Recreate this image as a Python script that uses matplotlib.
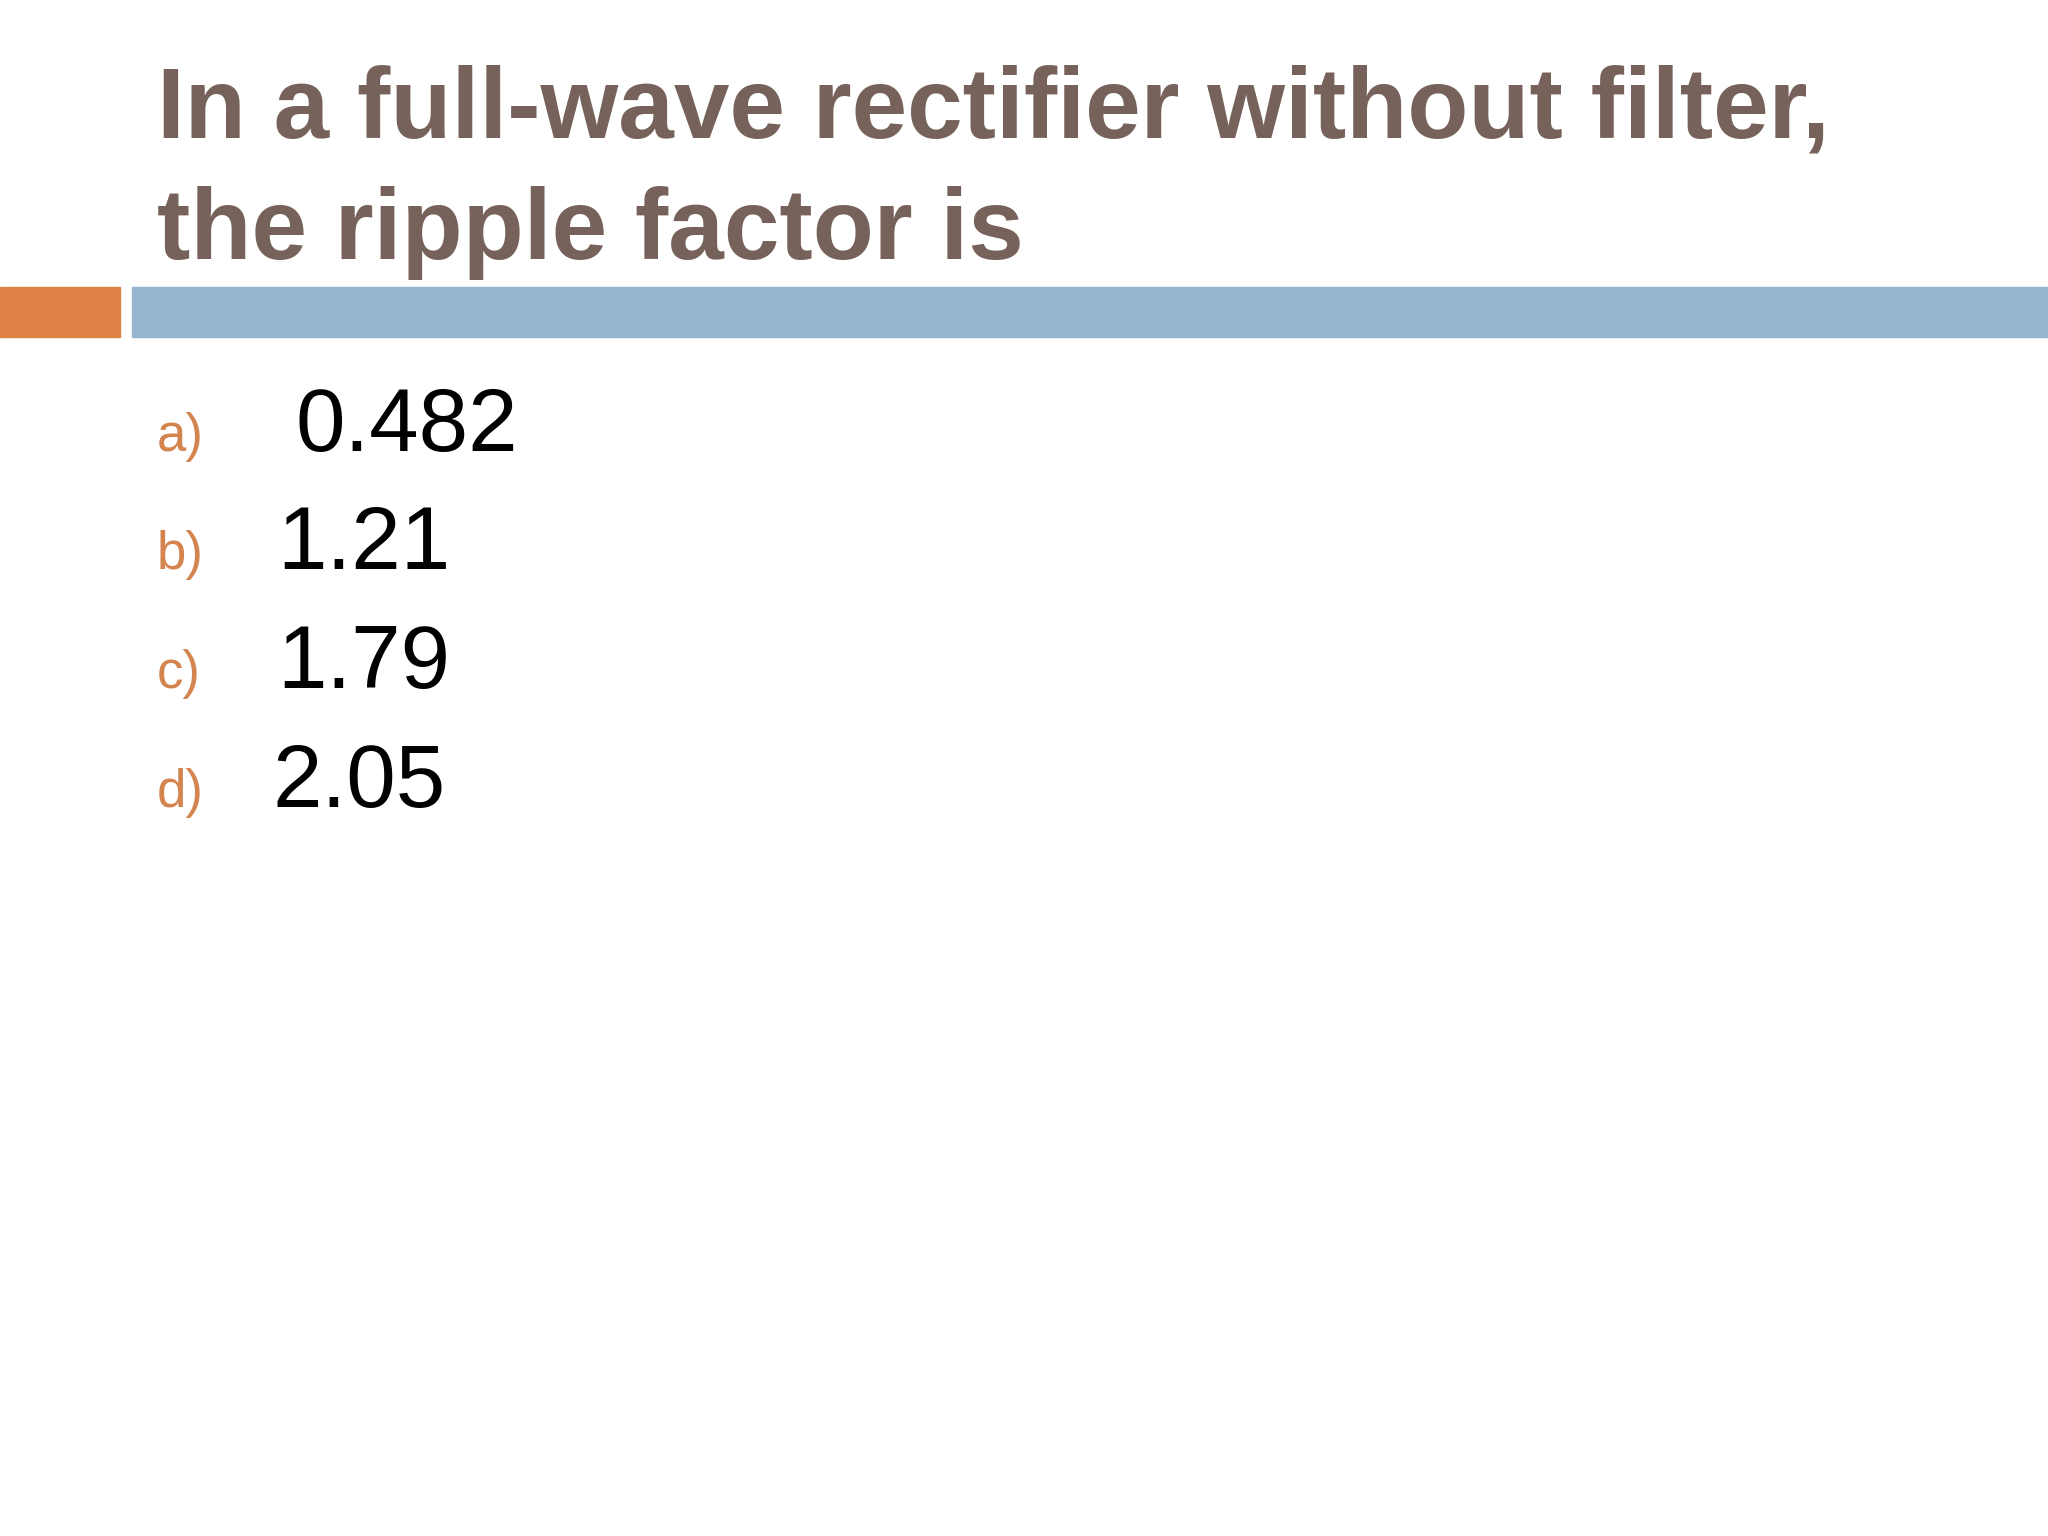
import matplotlib
matplotlib.use("Agg")
import matplotlib.pyplot as plt
from matplotlib.patches import Rectangle

title_lines = ["In a full-wave rectifier without filter,", "the ripple factor is"]
option_labels = ["a)", "b)", "c)", "d)"]
option_values = ["0.482", "1.21", "1.79", "2.05"]

W, H = 1568, 1176
fig = plt.figure(figsize=(20.48, 15.36), dpi=100)
fig.patch.set_facecolor("white")

def fx(x): return x / W
def fy(y): return 1 - y / H

fig.text(fx(120), fy(105), title_lines[0], fontsize=72, fontweight="bold",
         family="Liberation Sans", color="#76625a", va="baseline", ha="left")
fig.text(fx(120), fy(198), title_lines[1], fontsize=72, fontweight="bold",
         family="Liberation Sans", color="#76625a", va="baseline", ha="left")

fig.patches.append(Rectangle((0, fy(258)), fx(92), (258 - 220) / H,
                             transform=fig.transFigure, color="#e08246"))
fig.patches.append(Rectangle((fx(101), fy(258)), 1 - fx(101), (258 - 220) / H,
                             transform=fig.transFigure, color="#96b5d1"))

baselines = [345, 436, 527, 618]
value_x = [226, 212, 212, 209]
for lab, val, yb, vx in zip(option_labels, option_values, baselines, value_x):
    fig.text(fx(120), fy(yb), lab, fontsize=38, family="Liberation Sans",
             color="#d4844f", va="baseline", ha="left")
    fig.text(fx(vx), fy(yb), val, fontsize=64, family="Liberation Sans",
             color="black", va="baseline", ha="left")

fig.savefig("out.png", dpi=100, facecolor="white")
